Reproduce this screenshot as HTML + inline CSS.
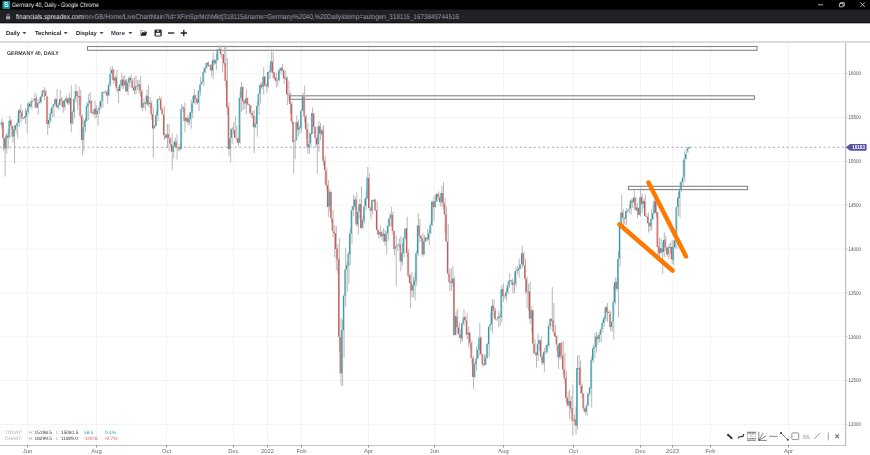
<!DOCTYPE html>
<html><head><meta charset="utf-8">
<style>
html,body{margin:0;padding:0;width:870px;height:455px;overflow:hidden;background:#fff;font-family:"Liberation Sans",sans-serif;text-rendering:geometricPrecision;}
#tb{position:absolute;left:0;top:0;width:870px;height:9px;background:#000;}
#tb2{position:absolute;left:0;top:9px;width:870px;height:1px;background:#0e0e0f;}
#ab{position:absolute;left:0;top:10px;width:870px;height:12px;background:#202124;}
#ab2{position:absolute;left:0;top:22px;width:870px;height:1px;background:#141415;}
#ab3{position:absolute;left:0;top:23px;width:870px;height:1px;background:#b0b0b0;}
#ttl{position:absolute;left:12px;top:0px;height:10px;line-height:12px;font-size:6.4px;color:#f0f0f0;white-space:nowrap;transform:scaleX(0.837);transform-origin:0 0;}
#url{position:absolute;left:15.5px;top:10px;height:13px;line-height:16px;font-size:7px;color:#9aa0a6;white-space:nowrap;transform:scaleX(0.9);transform-origin:0 0;}
#url b{font-weight:normal;color:#e8eaed;}
.m{position:absolute;top:23px;height:18px;line-height:22.5px;font-size:5.8px;font-weight:bold;color:#262626;white-space:nowrap;}
#sep{position:absolute;left:0;top:41px;width:870px;height:2px;background:#dcdcdc;}
svg{position:absolute;left:0;top:0;}
#ttl,#url,.m,svg{will-change:transform;}
</style></head><body>
<div id="tb"></div>
<div id="tb2"></div><div id="ab"></div><div id="ab2"></div><div id="ab3"></div>
<svg width="870" height="455">
<rect x="2.5" y="1" width="7.6" height="7.9" fill="#17939c"/>
<text x="6.3" y="7" font-size="7" font-weight="bold" fill="#fff" text-anchor="middle" font-family="Liberation Sans">S</text>
<rect x="6" y="16.3" width="4.2" height="2.9" fill="#a0a0a0" rx="0.4"/>
<path d="M6.9 16.4V15.4a1.2 1.2 0 0 1 2.4 0V16.4" stroke="#a0a0a0" stroke-width="0.8" fill="none"/>
<path d="M818 4.8h5" stroke="#d8d8d8" stroke-width="0.8"/>
<path d="M839.4 3.6h3.8v3.2h-3.8z M840.5 3.6v-1h3.8v3.3h-1.1" stroke="#d8d8d8" stroke-width="0.8" fill="none"/>
<path d="M860.3 2.3l4.6 4.6M864.9 2.3l-4.6 4.6" stroke="#d8d8d8" stroke-width="0.8"/>
</svg>
<div id="ttl">Germany 40, Daily - Google Chrome</div>
<div id="url"><b>financials.spreadex.com</b>/en-GB/Home/LiveChartMain?id=XFinSprMchMkt[318115&amp;name=Germany%2040,%20Daily&amp;temp=autogen_318115_1673849744516</div>
<div class="m" style="left:5.7px">Daily</div>
<div class="m" style="left:34.5px">Technical</div>
<div class="m" style="left:75.9px">Display</div>
<div class="m" style="left:111.1px;color:#3a3a48">More</div>
<div id="sep"></div>
<svg width="870" height="455">
<g fill="#4a4a4a">
<path d="M22.3 31.9h4.1l-2.05 2.3z M63.7 31.9h4.1l-2.05 2.3z M99.5 31.9h4.1l-2.05 2.3z M128.3 31.9h4.1l-2.05 2.3z"/>
</g>
<path d="M140.6 35.4V30.5h2.3l0.8 0.8h2.2v1" fill="none" stroke="#888" stroke-width="0.8"/>
<path d="M141.9 32.2h5.4l-1.5 3.5h-5.2z" fill="#222"/>
<rect x="154.5" y="29.4" width="7.2" height="7" rx="1.2" fill="#2e2e2e"/>
<rect x="155.9" y="32.9" width="4.4" height="2" fill="#fff"/>
<rect x="157.1" y="30.2" width="1.8" height="1.6" fill="#ddd"/>
<rect x="155.6" y="35.1" width="5" height="0.9" fill="#aaa"/>
<path d="M168 33h6.3" stroke="#1e1e1e" stroke-width="1.3"/>
<path d="M180.6 33h6.4M183.8 29.8v6.4" stroke="#1e1e1e" stroke-width="1.3"/>
<!-- grid -->
<g stroke="#f4f4f4" stroke-width="1">
<path d="M27.5 43V445M96.5 43V445M166.5 43V445M233.5 43V445M267.5 43V445M301.5 43V445M368.5 43V445M434.5 43V445M503.5 43V445M573.5 43V445M640.5 43V445M672.5 43V445M710.5 43V445M788.5 43V445"/>
<path d="M0 73.5H845M0 117.5H845M0 161.5H845M0 205H845M0 249H845M0 293H845M0 336.7H845M0 380.5H845M0 424.5H845"/>
</g>
<text x="7" y="54.9" font-size="5.5" font-weight="bold" fill="#3a3a3a" font-family="Liberation Sans" textLength="51.8" lengthAdjust="spacingAndGlyphs">GERMANY 40, DAILY</text>
<!-- rects -->
<g fill="none" stroke="#858585" stroke-width="1.1">
<rect x="87.5" y="46.5" width="669.5" height="3.8"/>
<rect x="289.5" y="95.8" width="465" height="3.5"/>
<rect x="628.5" y="186.3" width="119" height="3.3"/>
</g>
<!-- dashed current price line -->
<path d="M0 147.3H845" stroke="#9893d0" stroke-width="0.8" stroke-dasharray="2.2 2.4"/>
<path d="M1.9 118.4V128.6M3.5 122.1V150.7M5.1 137.6V176.7M6.7 133V153.6M8.2 129V148.7M9.8 116.1V138.3M11.4 119.2V128.8M13 125.6V142.8M14.5 124.5V163.5M16.1 125V133.7M17.7 119.3V138.5M19.3 108.7V126.9M20.9 104.5V122.6M22.4 109.9V119.4M24 117V119.4M25.6 108V124M27.2 109.2V133M28.7 101.6V114.3M30.3 103.7V107.6M31.9 98V109.6M33.5 100.6V101.2M35 92.6V108.5M36.6 95.3V108.1M38.2 99.2V114.9M39.8 97.2V104.3M41.4 94V103.3M42.9 89.6V97.2M44.5 87.1V100.5M46.1 89.5V96.3M47.7 96V135M49.2 117.7V128.1M50.8 110.2V123.3M52.4 105.9V116.8M54 103.8V117.5M55.5 98.3V104.7M57.1 89V108.5M58.7 102.8V109.5M60.3 89.9V105.3M61.9 96.7V107M63.4 100.3V112.7M65 99V110.4M66.6 95.4V102.6M68.2 98.7V105.2M69.7 93.1V104.4M71.3 85.2V132.5M72.9 109.8V124.6M74.5 97.2V118.2M76 84.3V102.3M77.6 91V109.9M79.2 86.6V105.2M80.8 89.9V118.7M82.4 114.6V155.4M83.9 118.9V151.3M85.5 117.6V132.5M87.1 101.9V121.3M88.7 93.9V120.2M90.2 92.2V104.4M91.8 99.9V113.5M93.4 110.8V115M95 100.6V118.5M96.5 105.3V118M98.1 108.6V125.8M99.7 101.6V114.1M101.3 99.3V108.8M102.9 91.7V107.7M104.4 91.6V92.8M106 90.2V95.5M107.6 89.8V103.6M109.2 82.6V96.3M110.7 67.2V86.7M112.3 66.2V79.4M113.9 69V83.9M115.5 75.6V86M117 70V92.7M118.6 87.1V103M120.2 84.6V91.5M121.8 72.9V88.7M123.4 76.2V88.8M124.9 75.3V85.8M126.5 79.1V92.3M128.1 79.4V95.1M129.7 76.5V87.4M131.2 74.4V83.5M132.8 78.1V88.6M134.4 77.1V94.5M136 75.3V94.3M137.6 79.9V90M139.1 79.8V94M140.7 76.1V96.5M142.3 89.9V110.9M143.9 98.1V108.1M145.4 102.5V110.4M147 89.3V105.3M148.6 85.1V107.2M150.2 97.1V108.2M151.7 100.9V119.7M153.3 107.1V157.7M154.9 124.7V128.7M156.5 111.3V126.2M158.1 98.3V121.4M159.6 96.2V100.3M161.2 96.8V110.5M162.8 107.4V114.7M164.4 105.9V140M165.9 133.1V138M167.5 123.9V148.1M169.1 123.6V151.5M170.7 137.4V146.3M172.2 133.2V170M173.8 142.1V158.3M175.4 137.5V148.2M177 134.1V159.4M178.6 146V150.9M180.1 144.1V151.2M181.7 103.7V149.1M183.3 105.8V111.9M184.9 102.4V132.5M186.4 117.2V122.6M188 114.9V125.2M189.6 112.2V124.7M191.2 99.8V128.8M192.7 96.3V118M194.3 88.9V103.5M195.9 94.8V105M197.5 98.6V104.3M199.1 90.4V111.1M200.6 77V95.7M202.2 81V84.4M203.8 67.3V86.1M205.4 66.2V73.4M206.9 62.5V68.8M208.5 61.2V67M210.1 64.3V70.5M211.7 63.6V76.6M213.2 52.7V79.1M214.8 58.6V65.1M216.4 54.1V69.8M218 49.1V60.8M219.6 45.5V51M221.1 45.5V58.4M222.7 54V72.4M224.3 45.5V65.4M225.9 46.4V87.4M227.4 57.7V115M229 102.8V156M230.6 128.2V161.9M232.2 127.1V143.8M233.7 122.6V134.7M235.3 116.4V138.1M236.9 125.7V141.3M238.5 138V146.5M240.1 90.9V144.2M241.6 82V111.8M243.2 86.3V110.2M244.8 99.6V109.1M246.4 89.5V114.1M247.9 97.3V105.2M249.5 103.5V113.9M251.1 105.3V117.3M252.7 111.3V118.6M254.2 109.7V153M255.8 116.4V128.3M257.4 101.5V136.7M259 92.9V114.9M260.6 82.7V103.5M262.1 81.7V89.2M263.7 67.1V94.5M265.3 75.8V86.6M266.9 82.6V92.8M268.4 72V88.3M270 65V79.1M271.6 49V72.5M273.2 52.2V78.6M274.7 72V80.4M276.3 72.8V87.7M277.9 77.7V86.2M279.5 68.7V81.2M281.1 66.8V74.4M282.6 63.7V71.4M284.2 69.5V84M285.8 70.3V80.1M287.4 76.3V105M288.9 80.6V100.7M290.5 92V113.5M292.1 101.8V123.8M293.7 121.6V173.5M295.2 139.4V159.2M296.8 115.4V140.5M298.4 119.5V136.3M300 124.9V133.9M301.6 109.6V132.2M303.1 92.9V110.8M304.7 85.6V122.4M306.3 114.4V138.6M307.9 123.1V153.7M309.4 132.8V153.9M311 132.2V147.4M312.6 107.5V133.9M314.2 112.9V133.3M315.8 126.7V147.5M317.3 135.2V173.5M318.9 120.7V152.1M320.5 122.9V139.8M322.1 126.6V136M323.6 125.1V165.3M325.2 155.7V184M326.8 167.2V190.3M328.4 180.1V216.9M329.9 188.8V211.9M331.5 191.6V222.5M333.1 210V237.5M334.7 224.6V257.4M336.3 225.8V270.3M337.8 244.4V274.1M339.4 238.4V351.9M341 318.2V385M342.6 319.9V386.2M344.1 294.2V357.9M345.7 247.6V306.7M347.3 262.3V291.9M348.9 251.1V283.7M350.4 228.4V265.4M352 206V244M353.6 194.7V216.2M355.2 196.6V209.6M356.8 192.4V226.6M358.3 206.6V234.8M359.9 198.9V219M361.5 186.6V229.1M363.1 216V228.5M364.6 198.7V223.3M366.2 191V209.8M367.8 167V199.2M369.4 172.9V208.6M370.9 206.3V219.4M372.5 199.6V214.5M374.1 198.7V202.2M375.7 198.9V210.9M377.3 201.6V234.8M378.8 229.5V238.8M380.4 225.6V237.2M382 230.5V240.7M383.6 228.1V242M385.1 230V245.8M386.7 231.4V254.6M388.3 219.2V240.9M389.9 213.1V227.1M391.4 206.8V226.4M393 211.9V234.9M394.6 230.8V255.3M396.2 235.6V286M397.8 244.7V250.8M399.3 238.3V247.7M400.9 236.1V271M402.5 243.3V265.3M404.1 237.1V257M405.6 227.8V239.3M407.2 216.7V256.5M408.8 248.8V278.4M410.4 274.1V308M411.9 272.1V297.8M413.5 276.4V297.4M415.1 272.4V300.2M416.7 250.5V285.6M418.3 213.1V256M419.8 219V241.9M421.4 235.4V241.3M423 233.1V256.8M424.6 235.2V254.7M426.1 237V241.9M427.7 228.7V241M429.3 229.7V245.1M430.9 222.3V233.9M432.4 200.6V226.1M434 195.7V220.7M435.6 194.4V207.8M437.2 192.9V202M438.8 191.5V199.7M440.3 193.4V206.5M441.9 186V207.1M443.5 182.2V208.5M445.1 198V232.9M446.6 206.3V241.6M448.2 223.9V276.2M449.8 268.4V291.5M451.4 268.3V290.9M453 265.8V286.5M454.5 276.6V335.8M456.1 310.8V335.1M457.7 308.4V333.7M459.3 321.8V337.9M460.8 329.1V343.7M462.4 322.2V341.5M464 309.5V326M465.6 316.5V321.5M467.1 312.5V339.5M468.7 326.4V346.7M470.3 332.2V349M471.9 340.1V364.3M473.5 356.3V388.6M475 361.2V377.7M476.6 346.5V370.6M478.2 344.2V359M479.8 322.7V356.1M481.3 335.7V355.4M482.9 353.7V367.2M484.5 354.4V365.5M486.1 354.2V365.4M487.6 343V358.7M489.2 326.2V357M490.8 311.8V330.5M492.4 299.3V332.8M494 299.6V317M495.5 307.8V320.4M497.1 319.4V320.5M498.7 310.9V327.2M500.3 312.9V325.7M501.8 285.3V322M503.4 283.6V301.8M505 294.3V298.8M506.6 287.6V301.2M508.1 281.3V294.4M509.7 273V288.3M511.3 279.8V282.3M512.9 278.3V293.5M514.5 272.5V293.3M516 267.1V286.5M517.6 266V274.3M519.2 258.5V277.9M520.8 264.4V269.2M522.3 245.7V268.1M523.9 251.8V266.6M525.5 259.2V294.2M527.1 276.4V308.2M528.6 283.6V310.9M530.2 281.7V324.2M531.8 305.6V332.7M533.4 309.5V354.2M535 339.2V353.7M536.5 352.3V367.7M538.1 334.2V361M539.7 339.4V350.6M541.3 336.1V360.5M542.8 353.7V365.1M544.4 347.7V371.6M546 345.4V354.2M547.6 343.6V353M549.1 323.8V347.5M550.7 318V329.4M552.3 287V326.9M553.9 303V335.6M555.5 324.6V337.1M557 335V351M558.6 344V369.1M560.2 343.1V359.6M561.8 341.5V359.1M563.3 341.1V374.8M564.9 352.9V384.3M566.5 371V402.9M568.1 391.3V406.9M569.6 389.5V419.1M571.2 396.1V412.3M572.8 384.7V435.7M574.4 414.4V421.8M576 406.4V434.6M577.5 355.6V429.5M579.1 355V385.4M580.7 360.5V394.1M582.3 383.4V398M583.8 393.3V411.6M585.4 408.2V414.8M587 403V416.3M588.6 392.9V406.3M590.1 386.9V395.8M591.7 356.1V407.6M593.3 345V363.1M594.9 333V358M596.5 331.9V352.5M598 333.5V345.1M599.6 332.2V342.4M601.2 327.7V342.2M602.8 319.8V332.4M604.3 315.8V326.5M605.9 305.7V321.4M607.5 303.1V321.7M609.1 310.2V313.2M610.6 311.3V330.9M612.2 320.6V331.8M613.8 285.4V339.7M615.4 277.6V304.4M617 278.7V291.3M618.5 251V317.4M620.1 222.5V266.4M621.7 194.7V225.3M623.3 208.9V226.1M624.8 216.8V224.7M626.4 207.8V225.2M628 209.6V213M629.6 204.2V213.4M631.2 198.7V214.5M632.7 198.4V208M634.3 190.5V205.2M635.9 197.2V211.4M637.5 202.9V218M639 207.2V214.9M640.6 187.7V216.7M642.2 193.2V213.1M643.8 198.2V208.6M645.3 194.4V216.4M646.9 213.3V216.9M648.5 212.7V232.6M650.1 221.8V231.1M651.7 209.4V230.3M653.2 205.2V219.8M654.8 199.5V213.9M656.4 200.8V217.2M658 212.1V260.8M659.5 237.4V259.6M661.1 239V253.9M662.7 241.8V274M664.3 232V256.9M665.8 235.8V250.9M667.4 246.9V256.8M669 243.5V259M670.6 242.5V253.6M672.2 240.2V264M673.7 240.3V265.3M675.3 231.6V248.6M676.9 205.9V249.2M678.5 192.3V216M680 182.6V217.7M681.6 180.5V192.2M683.2 160.4V186.8M684.8 150.4V181.8M686.3 151.8V159.5M687.9 147V153M689.5 146.2V149.2" stroke="#b0b0b0" stroke-width="0.9" fill="none"/><path d="M0.6 122.6h1.15v2.2h-1.15zM5.3 135.6h1.15v12.8h-1.15zM8.5 120.7h1.15v16.6h-1.15zM13.2 129.5h1.15v7h-1.15zM14.8 125.5h1.15v4.4h-1.15zM16.3 122.9h1.15v2.8h-1.15zM17.9 110.4h1.15v12.6h-1.15zM24.2 116h1.15v1.7h-1.15zM25.8 111h1.15v5.5h-1.15zM27.4 103.2h1.15v8.3h-1.15zM30.5 101.1h1.15v5.4h-1.15zM32.1 100.7h1.15v0.8h-1.15zM33.7 98.5h1.15v1.9h-1.15zM36.8 102.9h1.15v4.5h-1.15zM38.4 102.1h1.15v0.8h-1.15zM40 96.5h1.15v5.4h-1.15zM41.6 90.7h1.15v5.7h-1.15zM47.9 120h1.15v4.3h-1.15zM49.5 113.3h1.15v7.3h-1.15zM51 107.4h1.15v6.1h-1.15zM52.6 104.2h1.15v2.6h-1.15zM54.2 99.3h1.15v5.1h-1.15zM57.4 105.1h1.15v2.4h-1.15zM58.9 99.2h1.15v5.8h-1.15zM63.7 100.6h1.15v6.4h-1.15zM65.2 98.5h1.15v2.5h-1.15zM68.4 97.5h1.15v5.3h-1.15zM71.5 112h1.15v11.3h-1.15zM73.1 98.8h1.15v13.2h-1.15zM74.7 91h1.15v7.5h-1.15zM82.6 126.9h1.15v12.9h-1.15zM84.2 120.5h1.15v6.4h-1.15zM85.7 106h1.15v15.2h-1.15zM87.3 103.6h1.15v2.8h-1.15zM88.9 100.5h1.15v2.6h-1.15zM93.6 108.7h1.15v5.1h-1.15zM96.8 110.7h1.15v3.4h-1.15zM98.4 107.2h1.15v3.1h-1.15zM99.9 101.1h1.15v5.7h-1.15zM101.5 91.9h1.15v8.9h-1.15zM103.1 91.8h1.15v0.8h-1.15zM107.8 84.7h1.15v10.7h-1.15zM109.4 73.8h1.15v10.8h-1.15zM111 69.9h1.15v3.4h-1.15zM114.1 77.7h1.15v3.1h-1.15zM118.9 84.7h1.15v6.4h-1.15zM120.4 79.7h1.15v5.5h-1.15zM123.6 80.5h1.15v4.8h-1.15zM126.7 82.8h1.15v8.6h-1.15zM128.3 77.6h1.15v4.8h-1.15zM134.6 86h1.15v4.5h-1.15zM137.8 84.6h1.15v1.7h-1.15zM142.5 103.1h1.15v4.5h-1.15zM145.7 95.6h1.15v8.1h-1.15zM148.8 102.8h1.15v1.3h-1.15zM153.5 125.8h1.15v2.5h-1.15zM155.1 115.3h1.15v10.6h-1.15zM156.7 99.4h1.15v16.2h-1.15zM166.2 134.6h1.15v3.2h-1.15zM172.5 146h1.15v5.9h-1.15zM174 141.4h1.15v5.1h-1.15zM180.4 109.1h1.15v39.8h-1.15zM181.9 107.3h1.15v1.3h-1.15zM185.1 117.7h1.15v3h-1.15zM188.2 118.7h1.15v3.6h-1.15zM189.8 112.3h1.15v6.9h-1.15zM191.4 103.4h1.15v9.1h-1.15zM193 95.5h1.15v7.6h-1.15zM197.7 90.6h1.15v12.3h-1.15zM199.3 84.6h1.15v6.6h-1.15zM200.9 82.5h1.15v1.8h-1.15zM202.4 71.8h1.15v10.3h-1.15zM204 68.4h1.15v3.4h-1.15zM205.6 63h1.15v5h-1.15zM208.7 65.2h1.15v0.8h-1.15zM211.9 60.2h1.15v10.4h-1.15zM215.1 60.2h1.15v3.3h-1.15zM216.6 49.2h1.15v10.9h-1.15zM218.2 48.9h1.15v0.8h-1.15zM229.2 138.5h1.15v10.6h-1.15zM230.8 129.3h1.15v8.8h-1.15zM238.7 97.7h1.15v44.9h-1.15zM240.3 87h1.15v11h-1.15zM245 98.4h1.15v4.8h-1.15zM254.5 123.5h1.15v3.8h-1.15zM256.1 105.9h1.15v18.1h-1.15zM257.6 94.3h1.15v11.4h-1.15zM259.2 85h1.15v9.1h-1.15zM262.4 76.8h1.15v10h-1.15zM267.1 72.1h1.15v14.4h-1.15zM268.7 71h1.15v1.3h-1.15zM270.2 60.9h1.15v10.4h-1.15zM276.6 80.4h1.15v0.8h-1.15zM278.1 70.2h1.15v9.9h-1.15zM279.7 67.9h1.15v2.6h-1.15zM284.4 77.3h1.15v1.2h-1.15zM293.9 140.7h1.15v0.8h-1.15zM295.5 122h1.15v18.2h-1.15zM298.6 127.4h1.15v2.2h-1.15zM300.2 110.6h1.15v17.3h-1.15zM301.8 96.2h1.15v14.6h-1.15zM308.1 143.8h1.15v3.6h-1.15zM309.7 133.4h1.15v9.8h-1.15zM311.2 113.1h1.15v20.8h-1.15zM317.6 126h1.15v18h-1.15zM320.7 130.3h1.15v3.7h-1.15zM328.6 191.6h1.15v14.9h-1.15zM341.2 330.3h1.15v43.2h-1.15zM342.8 295.8h1.15v34.4h-1.15zM344.4 269.6h1.15v26.1h-1.15zM345.9 265.3h1.15v4.1h-1.15zM347.5 253.8h1.15v12h-1.15zM349.1 233.6h1.15v20.6h-1.15zM350.7 210.3h1.15v23.3h-1.15zM352.2 206.2h1.15v3.7h-1.15zM353.8 199.6h1.15v6.8h-1.15zM357 211.9h1.15v12.5h-1.15zM358.6 204h1.15v7.5h-1.15zM361.7 219.8h1.15v7.6h-1.15zM363.3 206.6h1.15v13.5h-1.15zM364.9 198.3h1.15v7.8h-1.15zM366.4 177.8h1.15v20.7h-1.15zM371.2 199.9h1.15v10.8h-1.15zM372.8 200h1.15v0.8h-1.15zM379.1 232.2h1.15v2.3h-1.15zM382.2 233.6h1.15v2.7h-1.15zM385.4 233.4h1.15v8h-1.15zM386.9 225.7h1.15v7.5h-1.15zM388.5 218.2h1.15v7.9h-1.15zM390.1 214.9h1.15v3.3h-1.15zM394.8 246.5h1.15v2.1h-1.15zM396.4 244.9h1.15v1.4h-1.15zM398 244.2h1.15v0.8h-1.15zM401.1 252.8h1.15v9h-1.15zM402.7 237.9h1.15v15.3h-1.15zM404.3 228.7h1.15v9.5h-1.15zM412.2 285.2h1.15v5h-1.15zM413.8 280.7h1.15v4.9h-1.15zM415.3 253.3h1.15v27.7h-1.15zM416.9 225.6h1.15v28h-1.15zM423.2 241.3h1.15v13h-1.15zM424.8 237.4h1.15v3.9h-1.15zM427.9 233.4h1.15v6h-1.15zM429.5 224.8h1.15v8.5h-1.15zM431.1 201.6h1.15v23.3h-1.15zM434.3 201.3h1.15v5.8h-1.15zM435.8 193.9h1.15v7.4h-1.15zM440.6 193.1h1.15v8.8h-1.15zM451.6 278.5h1.15v4.8h-1.15zM454.8 315.9h1.15v19h-1.15zM461.1 323.6h1.15v14.8h-1.15zM462.6 317.6h1.15v6.2h-1.15zM467.4 332.4h1.15v2.1h-1.15zM473.7 364.1h1.15v12.9h-1.15zM475.3 358.6h1.15v5.8h-1.15zM476.8 349.8h1.15v8.8h-1.15zM478.4 337.8h1.15v12.1h-1.15zM484.7 357.2h1.15v7.6h-1.15zM486.3 344h1.15v13.6h-1.15zM487.9 326.8h1.15v17.5h-1.15zM489.4 324.1h1.15v2.4h-1.15zM491 305.9h1.15v18.4h-1.15zM495.8 319.5h1.15v0.8h-1.15zM497.3 316.8h1.15v2.2h-1.15zM500.5 289.5h1.15v27.4h-1.15zM503.6 295.8h1.15v0.8h-1.15zM505.2 292h1.15v4.1h-1.15zM506.8 285.2h1.15v7h-1.15zM508.4 280.6h1.15v4.9h-1.15zM509.9 280.3h1.15v0.8h-1.15zM513.1 283.3h1.15v1.5h-1.15zM514.7 270.9h1.15v12.8h-1.15zM516.3 270.2h1.15v0.8h-1.15zM517.8 268.5h1.15v1.9h-1.15zM519.4 264.4h1.15v4.4h-1.15zM521 253.2h1.15v11h-1.15zM527.3 291.7h1.15v0.8h-1.15zM530.5 310.1h1.15v8.6h-1.15zM536.8 343.7h1.15v11.5h-1.15zM538.3 340.1h1.15v3.9h-1.15zM543.1 351.8h1.15v11.2h-1.15zM544.6 351.4h1.15v0.8h-1.15zM546.2 344.8h1.15v6.7h-1.15zM547.8 325.9h1.15v19.5h-1.15zM549.4 318.8h1.15v7.2h-1.15zM558.8 343.1h1.15v14.5h-1.15zM568.3 400.7h1.15v4.7h-1.15zM573 419.8h1.15v0.8h-1.15zM576.2 368h1.15v57.7h-1.15zM577.8 368h1.15v0.8h-1.15zM585.6 405.6h1.15v6.1h-1.15zM587.2 393.4h1.15v11.8h-1.15zM588.8 387.6h1.15v6h-1.15zM590.4 359.8h1.15v28.4h-1.15zM592 348.3h1.15v11.9h-1.15zM593.5 346.9h1.15v1.3h-1.15zM595.1 336.8h1.15v10.5h-1.15zM598.3 334.9h1.15v4.1h-1.15zM599.8 329.5h1.15v4.9h-1.15zM601.4 323h1.15v6.1h-1.15zM603 318.3h1.15v4.6h-1.15zM604.6 307.3h1.15v11.4h-1.15zM610.9 321.7h1.15v5.3h-1.15zM612.5 301.4h1.15v20h-1.15zM614 282.2h1.15v19.8h-1.15zM617.2 259h1.15v30.1h-1.15zM618.8 225.5h1.15v32.9h-1.15zM620.3 212.5h1.15v12.5h-1.15zM625.1 210.9h1.15v7.5h-1.15zM626.6 210.3h1.15v0.9h-1.15zM628.2 208.7h1.15v1h-1.15zM629.8 200.4h1.15v8h-1.15zM633 197.6h1.15v4.6h-1.15zM636.1 207.6h1.15v2.6h-1.15zM639.3 197.2h1.15v18.1h-1.15zM642.4 200.9h1.15v3.2h-1.15zM650.3 219h1.15v7.4h-1.15zM651.9 213.5h1.15v6h-1.15zM653.5 201h1.15v12.6h-1.15zM659.8 248.3h1.15v4.5h-1.15zM662.9 239.9h1.15v12h-1.15zM667.6 247.5h1.15v6.8h-1.15zM669.2 246.7h1.15v1.2h-1.15zM672.4 246.7h1.15v13.2h-1.15zM674 240.4h1.15v6.8h-1.15zM675.5 207.3h1.15v33.6h-1.15zM677.1 197.6h1.15v9.3h-1.15zM678.7 189.5h1.15v8.7h-1.15zM680.3 182.1h1.15v7.8h-1.15zM681.8 177.4h1.15v4.7h-1.15zM683.4 159.2h1.15v17.9h-1.15zM685 154.2h1.15v4.9h-1.15zM686.6 148.6h1.15v2.9h-1.15zM688.1 147.2h1.15v1.4h-1.15z" fill="#26a0ae"/><path d="M2.2 122.3h1.15v15.4h-1.15zM3.7 138h1.15v10.5h-1.15zM6.9 135.4h1.15v2.3h-1.15zM10 120.6h1.15v5h-1.15zM11.6 126h1.15v10.7h-1.15zM19.5 110.3h1.15v2.6h-1.15zM21.1 112.4h1.15v5h-1.15zM22.7 118h1.15v0.8h-1.15zM29 103.7h1.15v2.7h-1.15zM35.3 98.1h1.15v9.4h-1.15zM43.2 90.6h1.15v1.4h-1.15zM44.7 91.5h1.15v4.5h-1.15zM46.3 96.4h1.15v27.5h-1.15zM55.8 99h1.15v8h-1.15zM60.5 98.8h1.15v1.9h-1.15zM62.1 101.1h1.15v6.1h-1.15zM66.8 98.8h1.15v4.6h-1.15zM70 98.1h1.15v25.5h-1.15zM76.3 91.2h1.15v4.7h-1.15zM77.9 96.1h1.15v0.8h-1.15zM79.4 95.9h1.15v20.1h-1.15zM81 116.3h1.15v23.8h-1.15zM90.5 100.9h1.15v12h-1.15zM92 112.6h1.15v0.8h-1.15zM95.2 108.6h1.15v5.8h-1.15zM104.7 91.6h1.15v0.9h-1.15zM106.2 92.3h1.15v3.1h-1.15zM112.5 69.8h1.15v10.5h-1.15zM115.7 77.6h1.15v10.7h-1.15zM117.3 88.9h1.15v1.9h-1.15zM122 79.6h1.15v6.1h-1.15zM125.2 80.6h1.15v10.7h-1.15zM129.9 78.1h1.15v2.3h-1.15zM131.5 80.8h1.15v7.3h-1.15zM133 87.6h1.15v3h-1.15zM136.2 85.9h1.15v0.8h-1.15zM139.4 84.3h1.15v6.6h-1.15zM140.9 91.3h1.15v16.3h-1.15zM144.1 102.6h1.15v0.8h-1.15zM147.2 95.9h1.15v8.7h-1.15zM150.4 103h1.15v11.2h-1.15zM152 114.3h1.15v14.1h-1.15zM158.3 99h1.15v0.8h-1.15zM159.9 99.4h1.15v10h-1.15zM161.4 109.3h1.15v5.3h-1.15zM163 114.8h1.15v20.2h-1.15zM164.6 135.3h1.15v2.6h-1.15zM167.7 134.2h1.15v4.1h-1.15zM169.3 138.5h1.15v5h-1.15zM170.9 144.2h1.15v7.2h-1.15zM175.6 141.7h1.15v5.9h-1.15zM177.2 147.4h1.15v0.8h-1.15zM178.8 147.8h1.15v1.4h-1.15zM183.5 107.8h1.15v13.3h-1.15zM186.7 117.7h1.15v4.2h-1.15zM194.5 95.3h1.15v3.7h-1.15zM196.1 98.7h1.15v3.9h-1.15zM207.2 62.4h1.15v3h-1.15zM210.3 65.3h1.15v5.3h-1.15zM213.5 59.9h1.15v3.4h-1.15zM219.8 49.1h1.15v4.8h-1.15zM221.4 54.1h1.15v1h-1.15zM222.9 54.6h1.15v8.6h-1.15zM224.5 62.9h1.15v18.2h-1.15zM226.1 80.5h1.15v26.9h-1.15zM227.7 107h1.15v42.1h-1.15zM232.4 128.8h1.15v0.8h-1.15zM234 129.9h1.15v7.7h-1.15zM235.6 137.8h1.15v0.8h-1.15zM237.1 138.6h1.15v4.3h-1.15zM241.9 87.2h1.15v13.9h-1.15zM243.4 101h1.15v2.4h-1.15zM246.6 98h1.15v6.5h-1.15zM248.2 104.3h1.15v0.8h-1.15zM249.7 105.4h1.15v7.3h-1.15zM251.3 113.1h1.15v2.2h-1.15zM252.9 115.8h1.15v11.3h-1.15zM260.8 84.5h1.15v2.9h-1.15zM263.9 76.6h1.15v8.9h-1.15zM265.5 85h1.15v1.2h-1.15zM271.8 61.4h1.15v11.7h-1.15zM273.4 72.6h1.15v5.7h-1.15zM275 77.7h1.15v3.1h-1.15zM281.3 67.8h1.15v3.1h-1.15zM282.9 70.6h1.15v8h-1.15zM286 77.7h1.15v16.7h-1.15zM287.6 94.3h1.15v0.8h-1.15zM289.2 94.7h1.15v9.4h-1.15zM290.7 103.8h1.15v17.6h-1.15zM292.3 121.8h1.15v20.1h-1.15zM297.1 122.3h1.15v7.4h-1.15zM303.4 96.4h1.15v20h-1.15zM304.9 116.6h1.15v12.5h-1.15zM306.5 128.9h1.15v17.9h-1.15zM312.8 113.6h1.15v13.3h-1.15zM314.4 127h1.15v10.8h-1.15zM316 138h1.15v6.5h-1.15zM319.1 126.3h1.15v7.4h-1.15zM322.3 130.3h1.15v30.5h-1.15zM323.9 160.4h1.15v9.6h-1.15zM325.4 170.4h1.15v15.1h-1.15zM327 185.3h1.15v21.7h-1.15zM330.2 192.2h1.15v26h-1.15zM331.7 218.8h1.15v12.2h-1.15zM333.3 231.5h1.15v1.8h-1.15zM334.9 233.3h1.15v15.7h-1.15zM336.5 248.5h1.15v11.1h-1.15zM338.1 259.1h1.15v77.6h-1.15zM339.6 336.9h1.15v36.6h-1.15zM355.4 199.6h1.15v25h-1.15zM360.1 203.9h1.15v24.1h-1.15zM368 178.2h1.15v29.7h-1.15zM369.6 208.4h1.15v2.4h-1.15zM374.3 199.8h1.15v10.6h-1.15zM375.9 210.2h1.15v19.8h-1.15zM377.5 229.9h1.15v4.4h-1.15zM380.6 231.9h1.15v4.7h-1.15zM383.8 233.9h1.15v7.4h-1.15zM391.7 214.8h1.15v16.3h-1.15zM393.3 230.9h1.15v18h-1.15zM399.6 244.4h1.15v16.9h-1.15zM405.9 228.2h1.15v24.7h-1.15zM407.4 252.6h1.15v23.1h-1.15zM409 275.3h1.15v7.7h-1.15zM410.6 282.6h1.15v8.1h-1.15zM418.5 225.5h1.15v10.5h-1.15zM420.1 235.7h1.15v2.6h-1.15zM421.6 238.3h1.15v16.4h-1.15zM426.4 237.8h1.15v1.3h-1.15zM432.7 201.8h1.15v5.5h-1.15zM437.4 194.1h1.15v2.9h-1.15zM439 197.5h1.15v4.4h-1.15zM442.1 193.1h1.15v9.7h-1.15zM443.7 203.2h1.15v11.2h-1.15zM445.3 214.3h1.15v27.1h-1.15zM446.9 241.4h1.15v32h-1.15zM448.4 273.8h1.15v8.1h-1.15zM450 281.7h1.15v1.2h-1.15zM453.2 278.9h1.15v56.2h-1.15zM456.3 316.4h1.15v10.8h-1.15zM457.9 327.6h1.15v6.7h-1.15zM459.5 334.4h1.15v3.9h-1.15zM464.2 317.1h1.15v3h-1.15zM465.8 320.5h1.15v14.2h-1.15zM468.9 332.5h1.15v10.6h-1.15zM470.5 343h1.15v15h-1.15zM472.1 358.2h1.15v18.8h-1.15zM480 337.7h1.15v16.4h-1.15zM481.6 354.3h1.15v10h-1.15zM483.1 363.8h1.15v1.4h-1.15zM492.6 305.4h1.15v5.4h-1.15zM494.2 310.8h1.15v8.3h-1.15zM498.9 316.3h1.15v1.1h-1.15zM502.1 289h1.15v6.9h-1.15zM511.5 280.8h1.15v4.2h-1.15zM522.6 253.5h1.15v11.6h-1.15zM524.1 265.5h1.15v13.2h-1.15zM525.7 278.8h1.15v12.9h-1.15zM528.9 291.6h1.15v26.8h-1.15zM532 310.6h1.15v33h-1.15zM533.6 343.8h1.15v8.9h-1.15zM535.2 352.4h1.15v2.8h-1.15zM539.9 340.6h1.15v16h-1.15zM541.5 356.5h1.15v6.8h-1.15zM551 318.9h1.15v2.1h-1.15zM552.5 320.4h1.15v11.4h-1.15zM554.1 332.3h1.15v4.1h-1.15zM555.7 336.1h1.15v8.7h-1.15zM557.3 345.3h1.15v11.8h-1.15zM560.4 342.8h1.15v13.4h-1.15zM562 355.7h1.15v13.7h-1.15zM563.6 369.3h1.15v9.4h-1.15zM565.1 378.2h1.15v19.7h-1.15zM566.7 397.4h1.15v8h-1.15zM569.9 400.9h1.15v7.6h-1.15zM571.5 408.1h1.15v12.7h-1.15zM574.6 419.6h1.15v5.8h-1.15zM579.3 367.5h1.15v17.6h-1.15zM580.9 385.6h1.15v7.7h-1.15zM582.5 393.5h1.15v15.1h-1.15zM584.1 408.4h1.15v3.3h-1.15zM596.7 336.6h1.15v2.3h-1.15zM606.1 307.3h1.15v5.2h-1.15zM607.7 312h1.15v1h-1.15zM609.3 313.5h1.15v13.6h-1.15zM615.6 282h1.15v6.8h-1.15zM621.9 212.6h1.15v4.9h-1.15zM623.5 218h1.15v0.9h-1.15zM631.4 200.7h1.15v1.8h-1.15zM634.5 197.5h1.15v12.3h-1.15zM637.7 208h1.15v6.8h-1.15zM640.8 197h1.15v7.3h-1.15zM644 201h1.15v15.1h-1.15zM645.6 216.1h1.15v0.8h-1.15zM647.1 216.8h1.15v6.4h-1.15zM648.7 223h1.15v3.1h-1.15zM655 201.5h1.15v11.1h-1.15zM656.6 212.1h1.15v35h-1.15zM658.2 246.5h1.15v6.7h-1.15zM661.3 248.4h1.15v3.9h-1.15zM664.5 239.4h1.15v8h-1.15zM666.1 247.4h1.15v7.1h-1.15zM670.8 247h1.15v12.3h-1.15z" fill="#d85454"/>
<!-- orange lines -->
<g stroke="#ff7800" stroke-width="4.5" stroke-linecap="round">
<path d="M619.5 224.5L672.5 270.5"/>
<path d="M648.5 182.5L686 256.5"/>
</g>
<!-- axes -->
<path d="M845.6 43V445" stroke="#c4c4c4" stroke-width="1.4"/>
<path d="M0 445.5H846.3" stroke="#c4c4c4" stroke-width="1"/>
<g stroke="#aaa" stroke-width="0.8">
<path d="M846 73.3h1.2M846 117.2h1.2M846 161.1h1.2M846 204.9h1.2M846 248.8h1.2M846 292.7h1.2M846 336.6h1.2M846 380.4h1.2M846 424.3h1.2"/>
</g>
<g fill="#4a4a4a" font-size="5.5" font-family="Liberation Sans">
<text x="848.6" y="75.2" textLength="12.4" lengthAdjust="spacingAndGlyphs">16000</text>
<text x="848.6" y="119.1" textLength="12.4" lengthAdjust="spacingAndGlyphs">15500</text>
<text x="848.6" y="163" textLength="12.4" lengthAdjust="spacingAndGlyphs">15000</text>
<text x="848.6" y="206.8" textLength="12.4" lengthAdjust="spacingAndGlyphs">14500</text>
<text x="848.6" y="250.7" textLength="12.4" lengthAdjust="spacingAndGlyphs">14000</text>
<text x="848.6" y="294.6" textLength="12.4" lengthAdjust="spacingAndGlyphs">13500</text>
<text x="848.6" y="338.5" textLength="12.4" lengthAdjust="spacingAndGlyphs">13000</text>
<text x="848.6" y="382.3" textLength="12.4" lengthAdjust="spacingAndGlyphs">12500</text>
<text x="848.6" y="426.2" textLength="12.4" lengthAdjust="spacingAndGlyphs">12000</text>
</g>
<path d="M845.8 147.3L850 143.9H865.6a1 1 0 0 1 1 1V149.8a1 1 0 0 1 -1 1H850z" fill="#5953a6"/>
<text x="852.2" y="149.3" font-size="5.3" font-weight="bold" fill="#fff" font-family="Liberation Sans" textLength="12.8" lengthAdjust="spacingAndGlyphs">15153</text>
<g fill="#666" font-size="5.8" font-family="Liberation Sans" text-anchor="middle">
<text x="27.5" y="452.8">Jun</text>
<text x="96.5" y="452.8">Aug</text>
<text x="166.5" y="452.8">Oct</text>
<text x="233.5" y="452.8">Dec</text>
<text x="267.5" y="452.8">2022</text>
<text x="301.5" y="452.8">Feb</text>
<text x="368.5" y="452.8">Apr</text>
<text x="434.5" y="452.8">Jun</text>
<text x="503.5" y="452.8">Aug</text>
<text x="573.5" y="452.8">Oct</text>
<text x="640.5" y="452.8">Dec</text>
<text x="672.5" y="452.8">2023</text>
<text x="710.5" y="452.8">Feb</text>
<text x="788.5" y="452.8">Apr</text>
</g>
<g stroke="#9a9a9a" stroke-width="1">
<path d="M27.5 445V447.5M96.5 445V447.5M166.5 445V447.5M233.5 445V447.5M267.5 445V447.5M301.5 445V447.5M368.5 445V447.5M434.5 445V447.5M503.5 445V447.5M573.5 445V447.5M640.5 445V447.5M672.5 445V447.5M710.5 445V447.5M788.5 445V447.5"/>
</g>
<!-- today info -->
<g font-size="4.8" font-family="Liberation Sans">
<text x="5" y="433.8" fill="#aaa">TODAY:</text>
<text x="5" y="439.8" fill="#aaa">CHART:</text>
<text x="28.5" y="433.8" fill="#aaa">H:</text><text x="34.5" y="433.8" fill="#333">15198.5</text>
<text x="56" y="433.8" fill="#aaa">L:</text><text x="61" y="433.8" fill="#333">15081.5</text>
<text x="84" y="433.8" fill="#2a9fb0">58.5</text><text x="105" y="433.8" fill="#2a9fb0">0.4%</text>
<text x="28.5" y="439.8" fill="#aaa">H:</text><text x="34.5" y="439.8" fill="#333">16299.5</text>
<text x="56" y="439.8" fill="#aaa">L:</text><text x="61" y="439.8" fill="#333">11809.0</text>
<text x="84" y="439.8" fill="#d9534f">-100.6</text><text x="105" y="439.8" fill="#d9534f">-0.7%</text>
</g>
<!-- drawing tools -->
<path d="M727.3 434.3L731.6 437.9" stroke="#3a3a3a" stroke-width="1.9"/>
<path d="M730.2 438.9l2.4 0.3l-0.4-2.4z" fill="#3a3a3a"/>
<path d="M738.3 438.6c0-1.3 0.4-1.9 1.8-1.9h1.6c1.4 0 1.9-0.6 1.9-2.8" stroke="#3f3f3f" stroke-width="1.3" fill="none"/>
<g stroke="#555" fill="none">
<path d="M747 432.3h9M747 440.2h9" stroke-width="0.9"/>
<path d="M747 433.8h9M747 438.5h9" stroke-width="0.9" stroke-dasharray="1.6 1"/>
<path d="M747 436.2h9" stroke-width="0.6" stroke="#aaa" stroke-dasharray="1.4 1.2"/>
<path d="M747.4 432v8.5M751.5 432v8.5M755.6 432v8.5" stroke-width="0.5" stroke="#bbb"/>
</g>
<g stroke="#666" fill="none" stroke-width="0.8">
<path d="M758.8 431.8V440.4H766.9M758.8 440.4L762.9 433.2M758.8 440.4L765.9 436"/>
</g>
<circle cx="759.3" cy="439.9" r="0.8" fill="#555"/>
<path d="M769.2 436.3H777.8" stroke="#888" stroke-width="1"/>
<path d="M781 432.9L787.8 439.8" stroke="#555" stroke-width="0.8"/>
<circle cx="781" cy="432.9" r="1" fill="#333"/><circle cx="787.8" cy="439.8" r="1" fill="#333"/>
<rect x="791.9" y="432.9" width="6.8" height="6.7" rx="0.6" fill="none" stroke="#8a8a8a" stroke-width="0.9"/>
<text x="806.2" y="437" font-size="3.6" fill="#888" text-anchor="middle" font-family="Liberation Sans" font-style="italic">Abc</text>
<path d="M802.4 438.1h7.8" stroke="#999" stroke-width="0.7"/>
<path d="M814.3 439L820 433.1" stroke="#888" stroke-width="0.9"/>
<path d="M828.3 432.4V440.4" stroke="#999" stroke-width="0.9"/>
<path d="M835.5 434.5L839 438M839 434.5L835.5 438" stroke="#777" stroke-width="1.1"/>
</svg>
</body></html>
